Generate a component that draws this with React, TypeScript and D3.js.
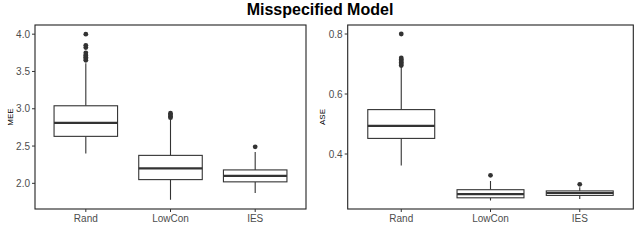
import React from "react";
import * as d3 from "d3";

const categories = ["Rand", "LowCon", "IES"];

// box stats per category: [lowWhisker, q1, median, q3, highWhisker]
const meeStats = [
  [2.4, 2.63, 2.81, 3.04, 3.61],
  [1.78, 2.05, 2.2, 2.375, 2.86],
  [1.87, 2.02, 2.1, 2.18, 2.42],
];
const meeOutliers = [
  [3.65, 3.67, 3.69, 3.71, 3.72, 3.75, 3.82, 3.85, 4.0],
  [2.88, 2.9, 2.92, 2.94],
  [2.49],
];
const meeTicks = [2.0, 2.5, 3.0, 3.5, 4.0];

const aseStats = [
  [0.362, 0.452, 0.494, 0.548, 0.691],
  [0.245, 0.254, 0.266, 0.281, 0.31],
  [0.25, 0.262, 0.27, 0.277, 0.289],
];
const aseOutliers = [
  [0.695, 0.7, 0.705, 0.71, 0.715, 0.72, 0.8],
  [0.329],
  [0.299],
];
const aseTicks = [0.4, 0.6, 0.8];

const FONT = "'Liberation Sans', Arial, Helvetica, sans-serif";

interface PanelProps {
  x0: number;
  x1: number;
  y0: number;
  y1: number;
  domain: [number, number];
  stats: number[][];
  outliers: number[][];
  ticks: number[];
  label: string;
  labelX: number;
  fmt: (v: number) => string;
}

function Panel({ x0, x1, y0, y1, domain, stats, outliers, ticks, label, labelX, fmt }: PanelProps) {
  const y = d3.scaleLinear().domain(domain).range([y1, y0]);
  const x = d3
    .scalePoint<string>()
    .domain(categories)
    .range([x0, x1])
    .padding(0.6);
  const bw = (x.step()) * 0.75;
  const ink = "#333333";

  return (
    <g>
      {stats.map((s, i) => {
        const cx = x(categories[i])!;
        return (
          <g key={i}>
            <line x1={cx} x2={cx} y1={y(s[0])} y2={y(s[1])} stroke={ink} strokeWidth={1.1} />
            <line x1={cx} x2={cx} y1={y(s[3])} y2={y(s[4])} stroke={ink} strokeWidth={1.1} />
            <rect
              x={cx - bw / 2}
              y={y(s[3])}
              width={bw}
              height={y(s[1]) - y(s[3])}
              fill="white"
              stroke={ink}
              strokeWidth={1.1}
            />
            <line x1={cx - bw / 2} x2={cx + bw / 2} y1={y(s[2])} y2={y(s[2])} stroke={ink} strokeWidth={2.2} />
            {outliers[i].map((o, j) => (
              <circle key={j} cx={cx} cy={y(o)} r={2.4} fill={ink} />
            ))}
          </g>
        );
      })}
      <rect x={x0} y={y0} width={x1 - x0} height={y1 - y0} fill="none" stroke="#222" strokeWidth={1.1} />
      {ticks.map((t) => (
        <g key={t}>
          <line x1={x0 - 3} x2={x0} y1={y(t)} y2={y(t)} stroke={ink} strokeWidth={1} />
          <text
            x={x0 - 5}
            y={y(t)}
            dy="0.35em"
            textAnchor="end"
            fontSize={10}
            fill="#4D4D4D"
            fontFamily={FONT}
          >
            {fmt(t)}
          </text>
        </g>
      ))}
      {categories.map((c) => (
        <g key={c}>
          <line x1={x(c)} x2={x(c)} y1={y1} y2={y1 + 3} stroke={ink} strokeWidth={1} />
          <text
            x={x(c)}
            y={y1 + 13}
            dy="0"
            textAnchor="middle"
            fontSize={10}
            fill="#4D4D4D"
            fontFamily={FONT}
          >
            {c}
          </text>
        </g>
      ))}
      <text
        transform={`translate(${labelX},${(y0 + y1) / 2}) rotate(-90)`}
        textAnchor="middle"
        dy="0.35em"
        fontSize={8}
        fill="black"
        fontFamily={FONT}
      >
        {label}
      </text>
    </g>
  );
}

export default function App() {
  const width = 640;
  const height = 240;
  return (
    <svg
      width={width}
      height={height}
      style={{ position: "absolute", left: 0, top: 0, background: "white" }}
    >
      <text
        x={320}
        y={15}
        textAnchor="middle"
        fontSize={16}
        fontWeight="bold"
        fontFamily={FONT}
        fill="black"
      >
        Misspecified Model
      </text>
      <Panel
        x0={35}
        x1={306}
        y0={25}
        y1={209}
        domain={[1.656, 4.123]}
        stats={meeStats}
        outliers={meeOutliers}
        ticks={meeTicks}
        label="MEE"
        labelX={10}
        fmt={d3.format(".1f")}
      />
      <Panel
        x0={347.7}
        x1={633.3}
        y0={25}
        y1={209}
        domain={[0.2167, 0.83]}
        stats={aseStats}
        outliers={aseOutliers}
        ticks={aseTicks}
        label="ASE"
        labelX={321.7}
        fmt={d3.format(".1f")}
      />
    </svg>
  );
}
